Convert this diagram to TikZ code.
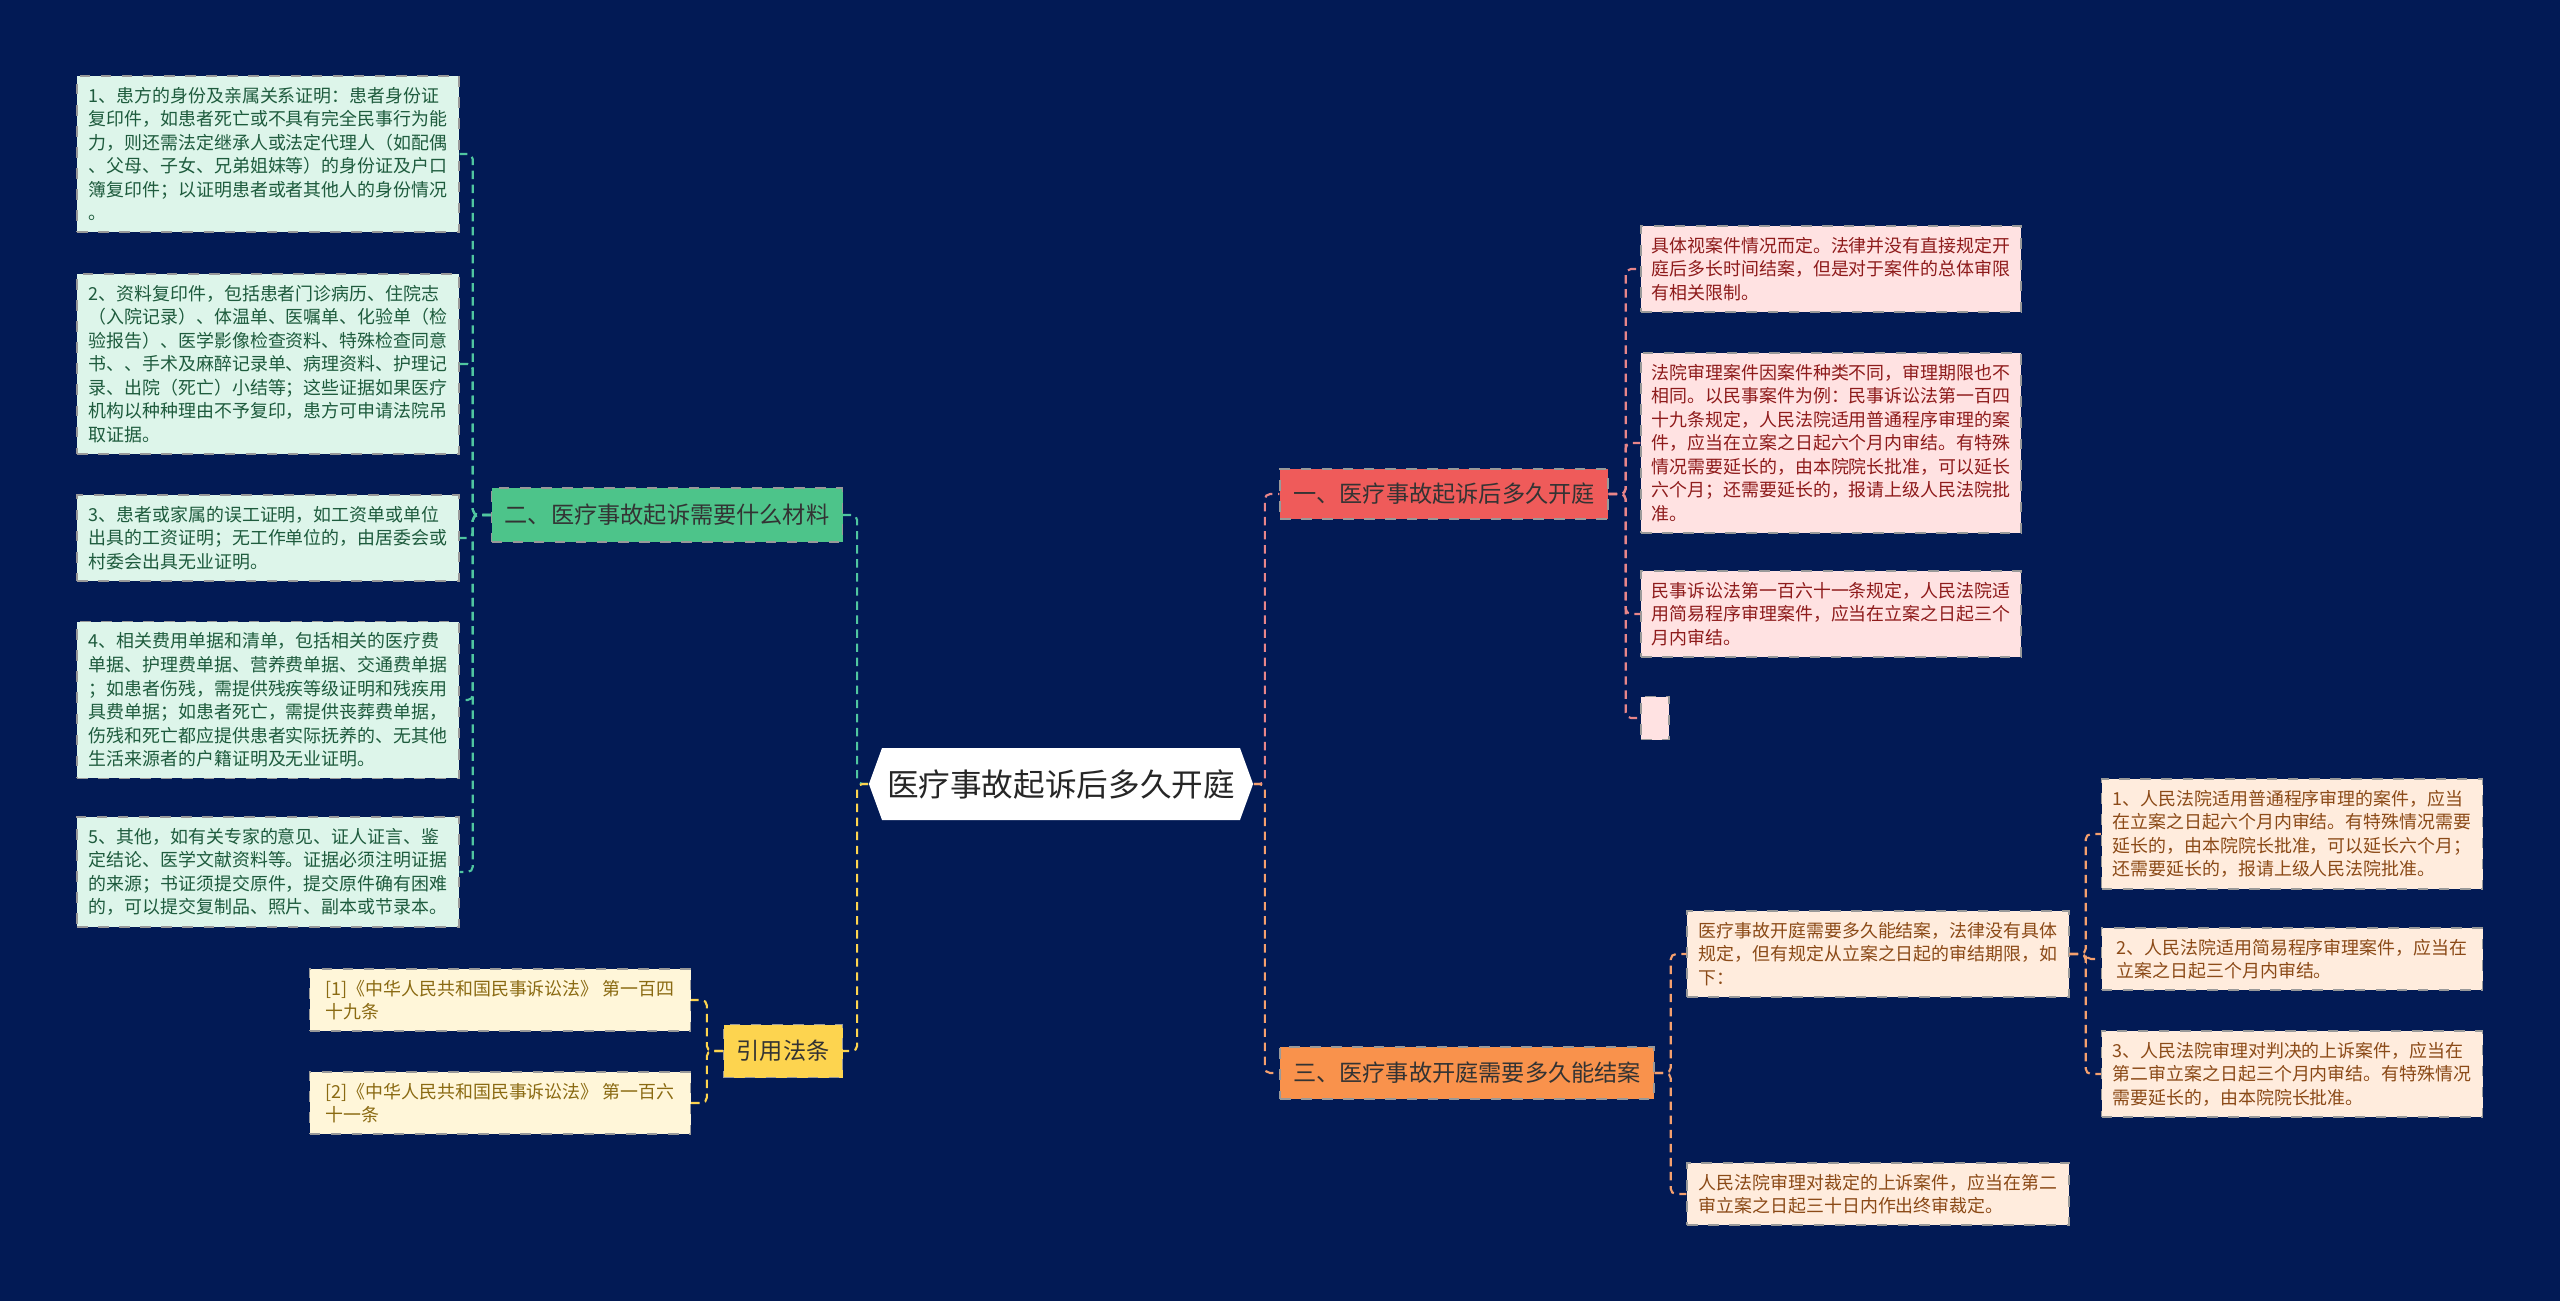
\documentclass[tikz,border=0pt]{standalone}
\usepackage{fontspec}
\setmainfont{Noto Sans CJK SC}
\usepackage{tikz}
\usetikzlibrary{shapes.symbols}
\definecolor{bgcol}{HTML}{021A55}
\definecolor{onefill}{HTML}{EF5B5A}
\definecolor{threefill}{HTML}{F9924C}
\definecolor{twofill}{HTML}{4DC48A}
\definecolor{lawfill}{HTML}{FDD44F}
\definecolor{pinkfill}{HTML}{FFE2E2}
\definecolor{pinktext}{HTML}{8E1B1B}
\definecolor{pinkline}{HTML}{E8868A}
\definecolor{peachfill}{HTML}{FFECDD}
\definecolor{peachtext}{HTML}{8B4A17}
\definecolor{peachline}{HTML}{F5A06E}
\definecolor{mintfill}{HTML}{DDF5EA}
\definecolor{minttext}{HTML}{1E5B3D}
\definecolor{mintline}{HTML}{50C6A0}
\definecolor{creamfill}{HTML}{FFF6D9}
\definecolor{creamtext}{HTML}{8A6A12}

\begin{document}
\begin{tikzpicture}[x=1cm,y=1cm,
  leaf/.style={draw=black!40, dashed, line width=0.4pt, align=left, inner xsep=0.1cm, inner ysep=0.11cm, font=\fontsize{5.1}{6.7}\selectfont},
  branch/.style={draw=black!40, dashed, line width=0.4pt, font=\fontsize{6.6}{8}\selectfont, text=black!80},
  link/.style={dash pattern=on 2.4pt off 1.6pt, line width=0.6pt, rounded corners=1.5pt}]
% page and background
\fill[bgcol] (0,0) rectangle (25.6,-13.01);

% centre topic and the four main branches
\node[signal, signal to=west and east, signal pointer angle=140, fill=white, minimum width=3.5cm, minimum height=0.72cm, inner xsep=0.05cm, font=\fontsize{9.0}{11}\selectfont, text=black!85] (root) at (10.61,-7.84) {医疗事故起诉后多久开庭};
\node[branch, fill=onefill, minimum width=3.28cm, minimum height=0.50cm] (one) at (14.44,-4.94) {一、医疗事故起诉后多久开庭};
\node[branch, fill=threefill, minimum width=3.74cm, minimum height=0.52cm] (three) at (14.67,-10.73) {三、医疗事故开庭需要多久能结案};
\node[branch, fill=twofill, minimum width=3.51cm, minimum height=0.54cm] (two) at (6.67,-5.15) {二、医疗事故起诉需要什么材料};
\node[branch, fill=lawfill, minimum width=1.19cm, minimum height=0.53cm] (law) at (7.83,-10.51) {引用法条};
\draw[link, pinkline] (root.east) -- ++(0.11,0) |- (one.west);
\draw[link, peachline] (root.east) -- ++(0.11,0) |- (three.west);
\draw[link, mintline] (root.west) -- ++(-0.11,0) |- (two.east);
\draw[link, lawfill] (root.west) -- ++(-0.11,0) |- (law.east);

% branch one: how long until the hearing
\foreach \n/\y/\txt in {
  a1/-2.69/{具体视案件情况而定。法律并没有直接规定开\\庭后多长时间结案，但是对于案件的总体审限\\有相关限制。},
  a2/-4.43/{法院审理案件因案件种类不同，审理期限也不\\相同。以民事案件为例：民事诉讼法第一百四\\十九条规定，人民法院适用普通程序审理的案\\件，应当在立案之日起六个月内审结。有特殊\\情况需要延长的，由本院院长批准，可以延长\\六个月；还需要延长的，报请上级人民法院批\\准。},
  a3/-6.14/{民事诉讼法第一百六十一条规定，人民法院适\\用简易程序审理案件，应当在立案之日起三个\\月内审结。}}{
  \node[leaf, fill=pinkfill, text=pinktext, minimum width=3.80cm] (\n) at (18.31,\y) {\txt};
  \draw[link, pinkline] (one.east) -- ++(0.17,0) |- (\n.west);
}
\node[leaf, fill=pinkfill, minimum width=0.28cm, minimum height=0.43cm, inner sep=0pt] (a4) at (16.55,-7.18) {};
\draw[link, pinkline] (one.east) -- ++(0.17,0) |- (a4.west);

% branch three: how long until the case is closed
\node[leaf, fill=peachfill, text=peachtext, minimum width=3.82cm] (b1) at (18.78,-9.54) {医疗事故开庭需要多久能结案，法律没有具体\\规定，但有规定从立案之日起的审结期限，如\\下：};
\node[leaf, fill=peachfill, text=peachtext, minimum width=3.82cm] (b2) at (18.78,-11.94) {人民法院审理对裁定的上诉案件，应当在第二\\审立案之日起三十日内作出终审裁定。};
\draw[link, peachline] (three.east) -- ++(0.16,0) |- (b1.west);
\draw[link, peachline] (three.east) -- ++(0.16,0) |- (b2.west);
\foreach \n/\y/\txt in {
  c1/-8.34/{1、人民法院适用普通程序审理的案件，应当\\在立案之日起六个月内审结。有特殊情况需要\\延长的，由本院院长批准，可以延长六个月；\\还需要延长的，报请上级人民法院批准。},
  c2/-9.59/{2、人民法院适用简易程序审理案件，应当在\\立案之日起三个月内审结。},
  c3/-10.74/{3、人民法院审理对判决的上诉案件，应当在\\第二审立案之日起三个月内审结。有特殊情况\\需要延长的，由本院院长批准。}}{
  \node[leaf, fill=peachfill, text=peachtext, minimum width=3.81cm] (\n) at (22.92,\y) {\txt};
  \draw[link, peachline] (b1.east) -- ++(0.16,0) |- (\n.west);
}

% branch two: materials for the suit
\foreach \n/\y/\txt in {
  d1/-1.54/{1、患方的身份及亲属关系证明：患者身份证\\复印件，如患者死亡或不具有完全民事行为能\\力，则还需法定继承人或法定代理人（如配偶\\、父母、子女、兄弟姐妹等）的身份证及户口\\簿复印件；以证明患者或者其他人的身份情况\\。},
  d2/-3.64/{2、资料复印件，包括患者门诊病历、住院志\\（入院记录）、体温单、医嘱单、化验单（检\\验报告）、医学影像检查资料、特殊检查同意\\书、、手术及麻醉记录单、病理资料、护理记\\录、出院（死亡）小结等；这些证据如果医疗\\机构以种种理由不予复印，患方可申请法院吊\\取证据。},
  d3/-5.38/{3、患者或家属的误工证明，如工资单或单位\\出具的工资证明；无工作单位的，由居委会或\\村委会出具无业证明。},
  d4/-7.00/{4、相关费用单据和清单，包括相关的医疗费\\单据、护理费单据、营养费单据、交通费单据\\；如患者伤残，需提供残疾等级证明和残疾用\\具费单据；如患者死亡，需提供丧葬费单据，\\伤残和死亡都应提供患者实际抚养的、无其他\\生活来源者的户籍证明及无业证明。},
  d5/-8.72/{5、其他，如有关专家的意见、证人证言、鉴\\定结论、医学文献资料等。证据必须注明证据\\的来源；书证须提交原件，提交原件确有困难\\的，可以提交复制品、照片、副本或节录本。}}{
  \node[leaf, fill=mintfill, text=minttext, minimum width=3.82cm] (\n) at (2.68,\y) {\txt};
  \draw[link, mintline] (two.west) -- ++(-0.18,0) |- (\n.east);
}

% cited articles
\foreach \n/\y/\txt in {
  e1/-10.00/{[1]《中华人民共和国民事诉讼法》 第一百四\\十九条},
  e2/-11.03/{[2]《中华人民共和国民事诉讼法》 第一百六\\十一条}}{
  \node[leaf, fill=creamfill, text=creamtext, minimum width=3.81cm] (\n) at (5.00,\y) {\txt};
  \draw[link, lawfill] (law.west) -- ++(-0.16,0) |- (\n.east);
}
\end{tikzpicture}
\end{document}
